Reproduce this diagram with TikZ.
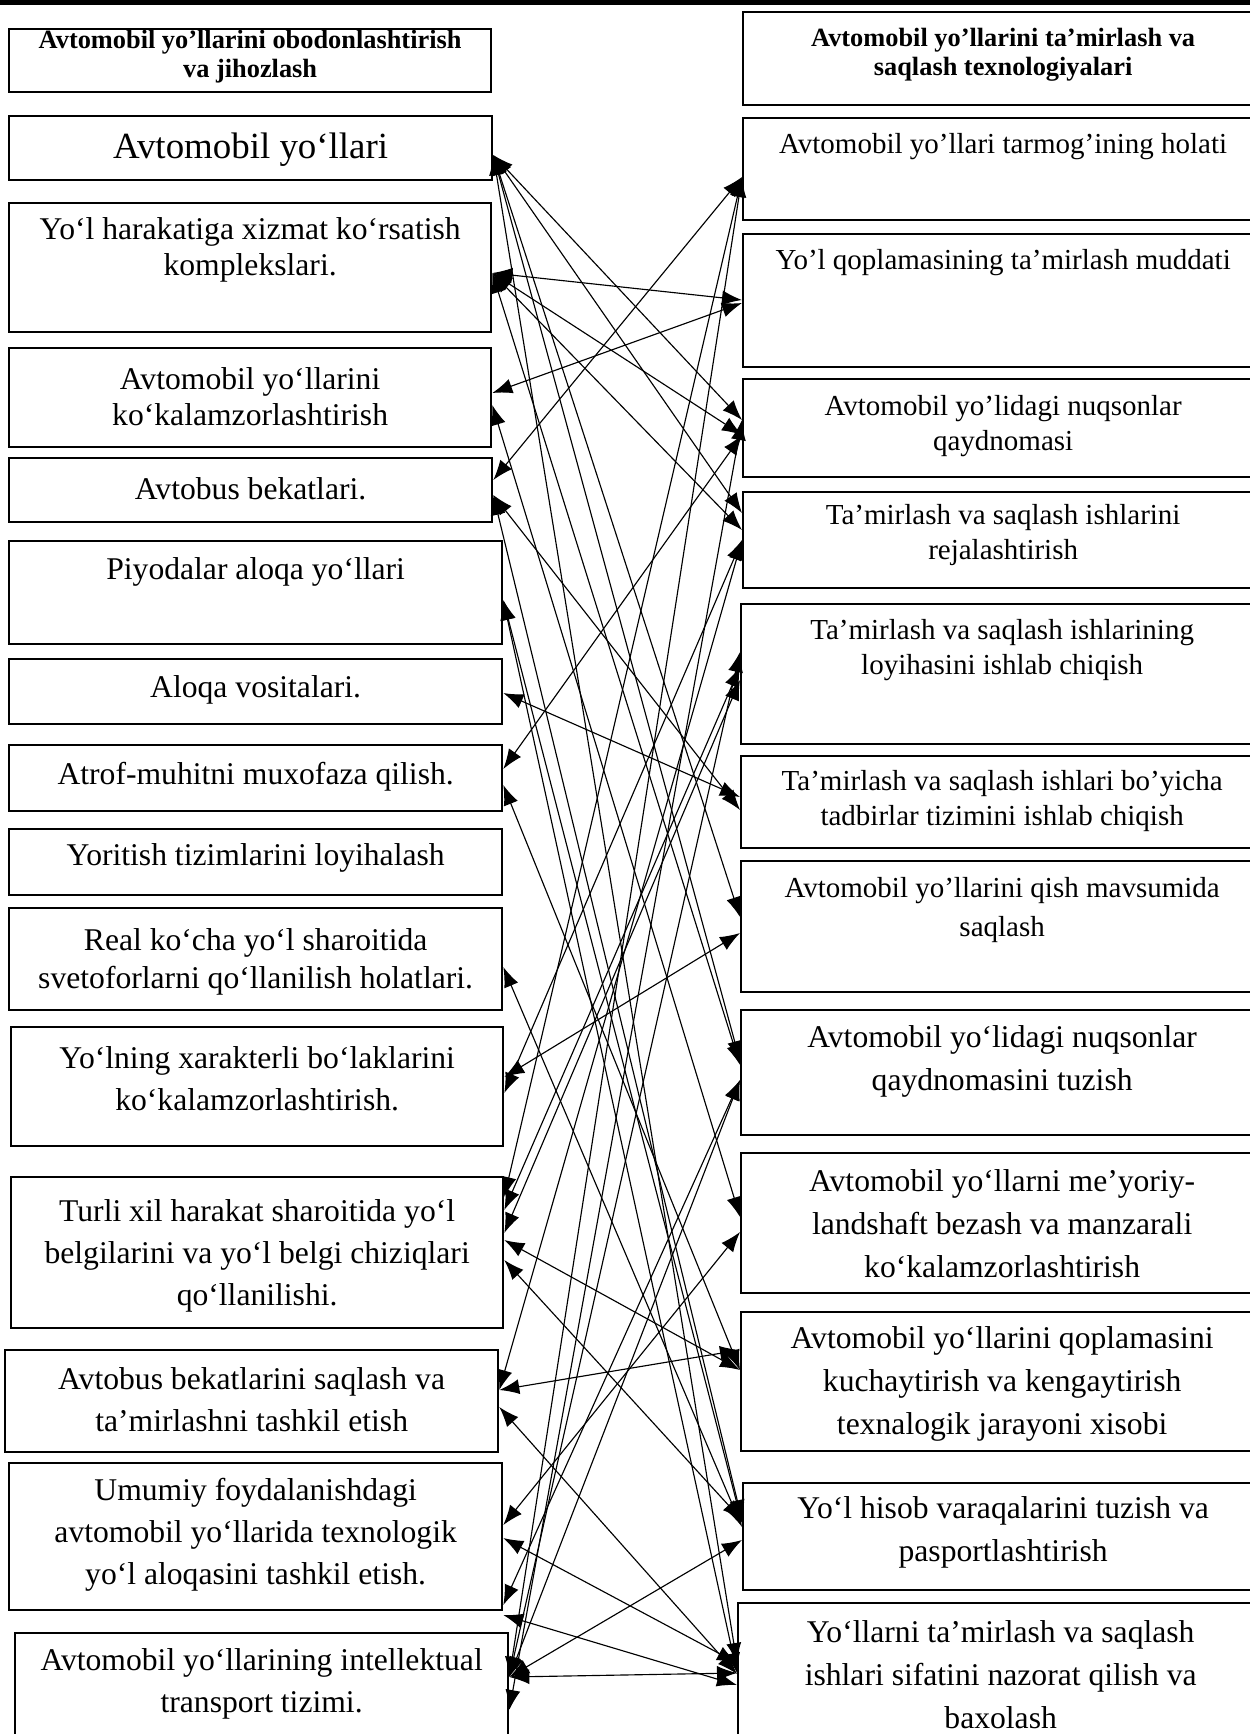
\documentclass[tikz,border=0pt]{standalone}
\usepackage{fontspec}
\setmainfont{Liberation Serif}
\usetikzlibrary{arrows.meta, positioning, calc}

\begin{document}
\begin{tikzpicture}[
    x=0.2mm, y=-0.2mm,
    box/.style={draw, line width=1.3pt, anchor=north west, inner sep=0pt},
    headtext/.style={font=\fontsize{15}{16.5}\selectfont\bfseries, align=center},
    bigtext/.style={font=\fontsize{21}{24}\selectfont, align=center},
    ltext/.style={font=\fontsize{18}{20.5}\selectfont, align=center},
    ltextw/.style={font=\fontsize{18}{24}\selectfont, align=center},
    rtext/.style={font=\fontsize{16.5}{20}\selectfont, align=center},
    rtextw/.style={font=\fontsize{18}{24.5}\selectfont, align=center},
    link/.style={{Latex[length=4mm,width=3mm]}-{Latex[length=4mm,width=3mm]}, line width=0.65pt}
]
    \useasboundingbox (0,0) rectangle (1250,1734);
    \clip (0,0) rectangle (1250,1734);
    \fill (0,0) rectangle (1250,5);

    % Left column - obodonlashtirish
    \node[box, minimum width=96.4mm, minimum height=12.6mm] (hleft) at (8,28) {};
    \node[headtext] at ($(hleft.north)+(0,29)$) {Avtomobil yo’llarini obodonlashtirish\\va jihozlash};

    \node[box, minimum width=96.6mm, minimum height=12.8mm] (roads) at (8,115) {};
    \node[bigtext] at ($(roads.north)+(0,35)$) {Avtomobil yo‘llari};

    \node[box, minimum width=96.4mm, minimum height=25.8mm] (service) at (8,202) {};
    \node[ltext] at ($(service.north)+(0,48)$) {Yo‘l harakatiga xizmat ko‘rsatish\\komplekslari.};

    \node[box, minimum width=96.4mm, minimum height=19.8mm] (greening) at (8,347) {};
    \node[ltext] at ($(greening.north)+(0,50)$) {Avtomobil yo‘llarini\\ko‘kalamzorlashtirish};

    \node[box, minimum width=96.6mm, minimum height=12.8mm] (busstop) at (8,457) {};
    \node[ltext] at ($(busstop.north)+(0,32)$) {Avtobus bekatlari.};

    \node[box, minimum width=98.6mm, minimum height=20.6mm] (walkways) at (8,540) {};
    \node[ltext] at ($(walkways.north)+(0,32)$) {Piyodalar aloqa yo‘llari};

    \node[box, minimum width=98.6mm, minimum height=13mm] (commtools) at (8,658) {};
    \node[ltext] at ($(commtools.north)+(0,32)$) {Aloqa vositalari.};

    \node[box, minimum width=98.6mm, minimum height=13.2mm] (environ) at (8,744) {};
    \node[ltext] at ($(environ.north)+(0,33)$) {Atrof-muhitni muxofaza qilish.};

    \node[box, minimum width=98.6mm, minimum height=13.2mm] (lighting) at (8,828) {};
    \node[ltext] at ($(lighting.north)+(0,30)$) {Yoritish tizimlarini loyihalash};

    \node[box, minimum width=98.6mm, minimum height=20.4mm] (signals) at (8,907) {};
    \node[ltext, font=\fontsize{18}{21.5}\selectfont] at ($(signals.north)+(0,55)$) {Real ko‘cha yo‘l sharoitida\\svetoforlarni qo‘llanilish holatlari.};

    \node[box, minimum width=98.4mm, minimum height=23.8mm] (greenparts) at (10,1026) {};
    \node[ltextw] at ($(greenparts.north)+(0,53)$) {Yo‘lning xarakterli bo‘laklarini\\ko‘kalamzorlashtirish.};

    \node[box, minimum width=98.4mm, minimum height=30.2mm] (markings) at (10,1176) {};
    \node[ltextw] at ($(markings.north)+(0,80)$) {Turli xil harakat sharoitida yo‘l\\belgilarini va yo‘l belgi chiziqlari\\qo‘llanilishi.};

    \node[box, minimum width=98.6mm, minimum height=20.4mm] (busrepair) at (4,1349) {};
    \node[ltextw] at ($(busrepair.north)+(0,51)$) {Avtobus bekatlarini saqlash va\\ta’mirlashni tashkil etish};

    \node[box, minimum width=98.6mm, minimum height=29.4mm] (techlink) at (8,1462) {};
    \node[ltextw] at ($(techlink.north)+(0,73)$) {Umumiy foydalanishdagi\\avtomobil yo‘llarida texnologik\\yo‘l aloqasini tashkil etish.};

    \node[box, minimum width=98.6mm, minimum height=26mm] (its) at (14,1632) {};
    \node[ltextw] at ($(its.north)+(0,52)$) {Avtomobil yo‘llarining intellektual\\transport tizimi.};

    % Right column - ta'mirlash va saqlash
    \node[box, minimum width=104mm, minimum height=18.6mm] (hright) at (742,11) {};
    \node[headtext] at ($(hright.north)+(0,44)$) {Avtomobil yo’llarini ta’mirlash va\\saqlash texnologiyalari};

    \node[box, minimum width=104mm, minimum height=20.4mm] (netstate) at (742,117) {};
    \node[rtext] at ($(netstate.north)+(0,30)$) {Avtomobil yo’llari tarmog’ining holati};

    \node[box, minimum width=104mm, minimum height=26.6mm] (repairterm) at (742,233) {};
    \node[rtext] at ($(repairterm.north)+(0,30)$) {Yo’l qoplamasining ta’mirlash muddati};

    \node[box, minimum width=104mm, minimum height=19.6mm] (defects) at (742,378) {};
    \node[rtext] at ($(defects.north)+(0,48)$) {Avtomobil yo’lidagi nuqsonlar\\qaydnomasi};

    \node[box, minimum width=104mm, minimum height=19.2mm] (planning) at (742,491) {};
    \node[rtext] at ($(planning.north)+(0,44)$) {Ta’mirlash va saqlash ishlarini\\rejalashtirish};

    \node[box, minimum width=104.4mm, minimum height=28mm] (design) at (740,603) {};
    \node[rtext] at ($(design.north)+(0,47)$) {Ta’mirlash va saqlash ishlarining\\loyihasini ishlab chiqish};

    \node[box, minimum width=104.4mm, minimum height=18.4mm] (measures) at (740,755) {};
    \node[rtext] at ($(measures.north)+(0,46)$) {Ta’mirlash va saqlash ishlari bo’yicha\\tadbirlar tizimini ishlab chiqish};

    \node[box, minimum width=104.4mm, minimum height=26.2mm] (winter) at (740,860) {};
    \node[rtext, font=\fontsize{16.5}{22}\selectfont] at ($(winter.north)+(0,50)$) {Avtomobil yo’llarini qish mavsumida\\saqlash};

    \node[box, minimum width=104.4mm, minimum height=25mm] (defectlist) at (740,1009) {};
    \node[rtextw] at ($(defectlist.north)+(0,52)$) {Avtomobil yo‘lidagi nuqsonlar\\qaydnomasini tuzish};

    \node[box, minimum width=104.4mm, minimum height=28mm] (landscape) at (740,1152) {};
    \node[rtextw] at ($(landscape.north)+(0,72)$) {Avtomobil yo‘llarni me’yoriy-\\landshaft bezash va manzarali\\ko‘kalamzorlashtirish};

    \node[box, minimum width=104.4mm, minimum height=27.8mm] (widening) at (740,1311) {};
    \node[rtextw] at ($(widening.north)+(0,73)$) {Avtomobil yo‘llarini qoplamasini\\kuchaytirish va kengaytirish\\texnalogik jarayoni xisobi};

    \node[box, minimum width=104mm, minimum height=21.4mm] (passport) at (742,1482) {};
    \node[rtextw] at ($(passport.north)+(0,50)$) {Yo‘l hisob varaqalarini tuzish va\\pasportlashtirish};

    \node[box, minimum width=105mm, minimum height=32mm] (quality) at (737,1602) {};
    \node[rtextw] at ($(quality.north)+(0,73)$) {Yo‘llarni ta’mirlash va saqlash\\ishlari sifatini nazorat qilish va\\baxolash};

    % Links between the two columns
    \draw[link] ($(roads.north east)+(0,40)$) -- ($(defects.north west)+(0,42)$);
    \draw[link] ($(roads.north east)+(0,40)$) -- ($(planning.north west)+(0,22)$);
    \draw[link] ($(roads.north east)+(0,40)$) -- ($(winter.north west)+(0,57)$);
    \draw[link] ($(roads.north east)+(0,40)$) -- ($(defectlist.north west)+(0,52)$);
    \draw[link] ($(roads.north east)+(0,40)$) -- ($(quality.north west)+(0,61)$);

    \draw[link] ($(service.north east)+(0,71)$) -- ($(repairterm.north west)+(0,67)$);
    \draw[link] ($(service.north east)+(0,71)$) -- ($(defects.north west)+(0,57)$);
    \draw[link] ($(service.north east)+(0,71)$) -- ($(planning.north west)+(0,39)$);
    \draw[link] ($(service.north east)+(0,71)$) -- ($(defectlist.north west)+(0,56)$);

    \draw[link] ($(greening.north east)+(0,46)$) -- ($(repairterm.north west)+(0,70)$);
    \draw[link] ($(greening.north east)+(0,58)$) -- ($(landscape.north west)+(0,65)$);

    \draw[link] ($(busstop.north east)+(0,23)$) -- ($(netstate.north west)+(0,60)$);
    \draw[link] ($(busstop.north east)+(0,38)$) -- ($(measures.north west)+(0,55)$);
    \draw[link] ($(busstop.north east)+(0,38)$) -- ($(passport.north west)+(0,38)$);

    \draw[link] ($(walkways.north east)+(0,60)$) -- ($(passport.north west)+(0,41)$);
    \draw[link] ($(walkways.north east)+(0,60)$) -- ($(quality.north west)+(0,71)$);

    \draw[link] ($(commtools.north east)+(0,35)$) -- ($(measures.north west)+(0,42)$);

    \draw[link] ($(environ.north east)+(0,25)$) -- ($(defects.north west)+(0,57)$);
    \draw[link] ($(environ.north east)+(0,41)$) -- ($(widening.north west)+(0,59)$);

    \draw[link] ($(signals.north east)+(0,60)$) -- ($(passport.north west)+(0,45)$);

    \draw[link] ($(greenparts.north east)+(0,51)$) -- ($(winter.north west)+(0,73)$);
    \draw[link] ($(greenparts.north east)+(0,67)$) -- ($(planning.north west)+(0,49)$);

    \draw[link] ($(markings.north east)+(0,21)$) -- ($(netstate.north west)+(0,60)$);
    \draw[link] ($(markings.north east)+(0,34)$) -- ($(design.north west)+(0,64)$);
    \draw[link] ($(markings.north east)+(0,57)$) -- ($(design.north west)+(0,77)$);
    \draw[link] ($(markings.north east)+(0,64)$) -- ($(widening.north west)+(0,59)$);
    \draw[link] ($(markings.north east)+(0,84)$) -- ($(passport.north west)+(0,38)$);

    \draw[link] ($(busrepair.north east)+(0,41)$) -- ($(widening.north west)+(0,39)$);
    \draw[link] ($(busrepair.north east)+(0,41)$) -- ($(planning.north west)+(0,49)$);
    \draw[link] ($(busrepair.north east)+(0,58)$) -- ($(quality.north west)+(0,72)$);

    \draw[link] ($(techlink.north east)+(0,63)$) -- ($(landscape.north west)+(0,80)$);
    \draw[link] ($(techlink.north east)+(0,76)$) -- ($(quality.north west)+(0,61)$);
    \draw[link] ($(techlink.north east)+(0,143)$) -- ($(defectlist.north west)+(0,71)$);
    \draw[link] ($(techlink.north east)+(0,153)$) -- ($(quality.north west)+(0,83)$);

    \draw[link] ($(its.north east)+(0,45)$) -- ($(quality.north west)+(0,71)$);
    \draw[link] ($(its.north east)+(0,45)$) -- ($(passport.north west)+(0,58)$);
    \draw[link] ($(its.north east)+(0,45)$) -- ($(netstate.north west)+(0,60)$);
    \draw[link] ($(its.north east)+(0,45)$) -- ($(design.north west)+(0,49)$);
    \draw[link] ($(its.north east)+(0,45)$) -- ($(defectlist.north west)+(0,71)$);
    \draw[link] ($(its.north east)+(0,78)$) -- ($(defects.north west)+(0,42)$);
\end{tikzpicture}
\end{document}
